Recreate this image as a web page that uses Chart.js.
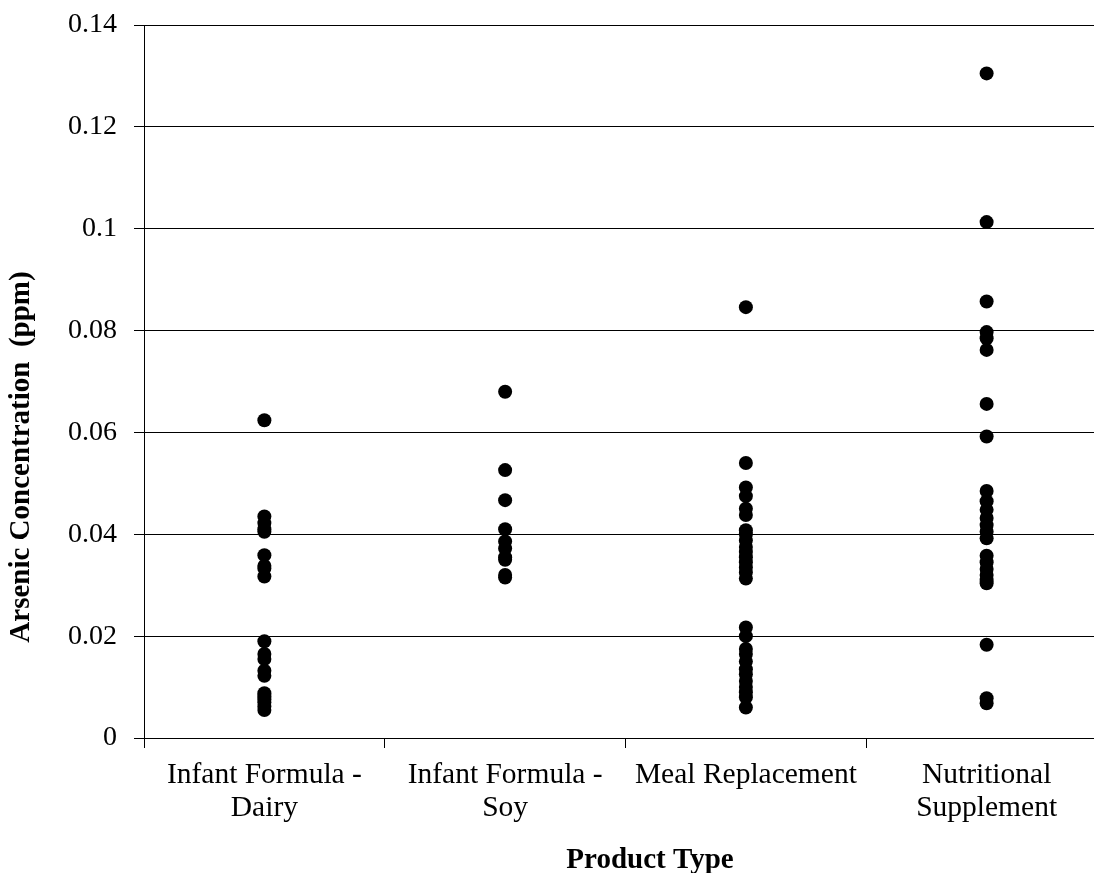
<!DOCTYPE html>
<html>
<head>
<meta charset="utf-8">
<title>Arsenic Concentration by Product Type</title>
<script src="https://cdn.jsdelivr.net/npm/chart.js@4/dist/chart.umd.min.js"></script>
<style>
  html, body { margin: 0; padding: 0; background: #ffffff; overflow: hidden; }
  #wrap { position: relative; width: 1114px; height: 873px; }
</style>
</head>
<body>
<div id="wrap"><canvas id="chart" width="1114" height="873"></canvas></div>
<script>
// Product categories (multi-line tick labels)
const categories = [
  ['Infant Formula -', 'Dairy'],
  ['Infant Formula -', 'Soy'],
  ['Meal Replacement'],
  ['Nutritional', 'Supplement']
];

// Arsenic concentration (ppm) per sample, one array per product type
const dairy = [0.0624, 0.0435, 0.0422, 0.0410, 0.0405, 0.0359, 0.0338, 0.0333, 0.0317,
  0.0190, 0.0165, 0.0155, 0.0132, 0.0122, 0.0088, 0.0082, 0.0076, 0.0070, 0.0062, 0.0055];
const soy = [0.0680, 0.0526, 0.0467, 0.0410, 0.0386, 0.0372, 0.0355, 0.0350, 0.0320, 0.0315];
const meal = [0.0846, 0.0540, 0.0492, 0.0475, 0.0450, 0.0438, 0.0408, 0.0400, 0.0388, 0.0375,
  0.0365, 0.0355, 0.0345, 0.0335, 0.0325, 0.0313, 0.0217, 0.0200, 0.0175, 0.0165, 0.0150,
  0.0135, 0.0125, 0.0112, 0.0100, 0.0090, 0.0080, 0.0060];
const supplement = [0.1305, 0.1013, 0.0857, 0.0797, 0.0785, 0.0762, 0.0656, 0.0592, 0.0485,
  0.0465, 0.0448, 0.0432, 0.0418, 0.0405, 0.0392, 0.0358, 0.0345, 0.0332, 0.0320, 0.0310,
  0.0304, 0.0183, 0.0078, 0.0068];

// Axis settings
const yMin = 0, yMax = 0.14, yStep = 0.02;
const xTitle = 'Product Type';
const yTitle = 'Arsenic Concentration  (ppm)';

const serif = '"Liberation Serif", "Times New Roman", serif';
const seriesList = [dairy, soy, meal, supplement];

// x refers to the category label itself, so each column lands on its own category
const datasets = seriesList.map((vals, i) => ({
  label: categories[i].join(' '),
  data: vals.map(v => ({ x: categories[i], y: v })),
  backgroundColor: '#000000',
  borderColor: '#000000',
  borderWidth: 0,
  pointRadius: 7,
  pointHoverRadius: 7
}));

// Axis titles placed in the figure margins
const axisTitlePlugin = {
  id: 'axisTitles',
  afterDraw(chart) {
    const ctx = chart.ctx;
    ctx.save();
    ctx.font = 'bold 29px ' + serif;
    ctx.fillStyle = '#000000';
    ctx.textAlign = 'center';

    ctx.textBaseline = 'alphabetic';
    ctx.fillText(xTitle, 650, 868);

    ctx.translate(22, 457);
    ctx.rotate(-Math.PI / 2);
    ctx.textBaseline = 'middle';
    ctx.fillText(yTitle, 0, 0);
    ctx.restore();
  }
};

new Chart(document.getElementById('chart'), {
  type: 'scatter',
  data: { labels: categories, datasets },
  plugins: [axisTitlePlugin],
  options: {
    responsive: false,
    animation: false,
    events: [],
    layout: { padding: { left: 0, right: 3, top: 25, bottom: 0 } },
    plugins: {
      legend: { display: false },
      tooltip: { enabled: false }
    },
    scales: {
      x: {
        type: 'category',
        offset: true,
        afterFit(scale) {
          scale.height = 135;
          scale.paddingLeft = 0;
          scale.paddingRight = 0;
        },
        grid: {
          offset: true,
          drawOnChartArea: false,
          drawTicks: true,
          tickLength: 10,
          color: '#000000',
          lineWidth: 1
        },
        border: { color: '#000000', width: 1 },
        ticks: {
          color: '#000000',
          font: { family: serif, size: 29.5, lineHeight: 1.12 },
          padding: 11,
          maxRotation: 0,
          autoSkip: false
        },
        title: { display: false }
      },
      y: {
        min: yMin,
        max: yMax,
        afterFit(scale) {
          scale.width = 144;
          scale.paddingTop = 0;
          scale.paddingBottom = 0;
        },
        grid: {
          color: '#000000',
          lineWidth: 1,
          tickLength: 10
        },
        border: { color: '#000000', width: 1 },
        ticks: {
          stepSize: yStep,
          color: '#000000',
          font: { family: serif, size: 28 },
          padding: 17,
          callback: v => String(+v.toFixed(2))
        },
        title: { display: false }
      }
    }
  }
});
</script>
</body>
</html>
